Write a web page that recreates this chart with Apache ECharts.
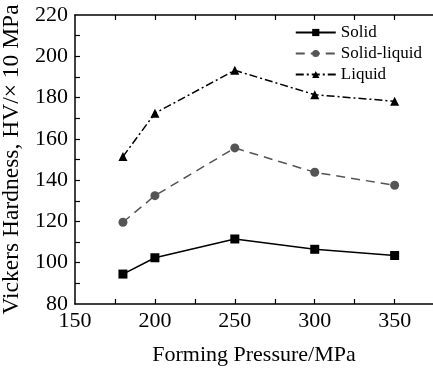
<!DOCTYPE html>
<html>
<head>
<meta charset="utf-8">
<script src="https://cdn.jsdelivr.net/npm/echarts@6/dist/echarts.min.js"></script>
<style>
  html, body { margin: 0; padding: 0; background: #fff; }
  #chart { width: 433px; height: 373px; }
</style>
</head>
<body>
<div id="chart"></div>
<script>
// forming pressure (MPa)
const pressures = [180, 200, 250, 300, 350];
// Vickers hardness, HV / x10 MPa
const solid = [94.5, 102.4, 111.5, 106.5, 103.5];
const solidLiquid = [119.6, 132.5, 155.6, 143.8, 137.5];
const liquid = [151.4, 172.4, 193.2, 181.4, 178.2];

const xTicks = [175, 200, 225, 250, 275, 300, 325, 350];
const xLabels = [150, 200, 250, 300, 350];
const yTicks = [90, 100, 110, 120, 130, 140, 150, 160, 170, 180, 190, 200, 210];

const font = "'Liberation Serif', 'Times New Roman', serif";

const chart = echarts.init(document.getElementById('chart'));

const pairs = vals => pressures.map((p, i) => [p, vals[i]]);

const baseX = {
  type: 'value',
  min: 150,
  max: 374,
  axisLine: { show: true, onZero: false, lineStyle: { color: '#000', width: 1.5 } },
  axisTick: { show: true, inside: true, length: 5, customValues: xTicks, lineStyle: { color: '#000', width: 1.2 } },
  splitLine: { show: false }
};

chart.setOption({
  animation: false,
  textStyle: { fontFamily: font },
  grid: { left: 75, top: 15, right: 0, bottom: 69, containLabel: false, outerBoundsMode: 'none' },
  legend: {
    right: 6,
    top: 19,
    orient: 'vertical',
    itemWidth: 40,
    itemHeight: 9,
    itemGap: 4,
    textStyle: { fontFamily: font, fontSize: 17, color: '#000' },
    data: ['Solid', 'Solid-liquid', 'Liquid']
  },
  xAxis: [
    Object.assign({}, baseX, {
      position: 'bottom',
      name: 'Forming Pressure/MPa',
      nameLocation: 'middle',
      nameGap: 40,
      nameTextStyle: { fontFamily: font, fontSize: 22, color: '#000' },
      axisLabel: { customValues: xLabels, margin: 6, fontFamily: font, fontSize: 22, color: '#000' }
    }),
    Object.assign({}, baseX, {
      position: 'top',
      axisLabel: { show: false }
    })
  ],
  yAxis: {
    type: 'value',
    min: 80,
    max: 220,
    interval: 20,
    name: 'Vickers Hardness, HV/\u00d7 10 MPa',
    nameLocation: 'middle',
    nameGap: 42,
    nameTextStyle: { fontFamily: font, fontSize: 23.5, color: '#000' },
    axisLine: { show: true, lineStyle: { color: '#000', width: 1.5 } },
    axisTick: { show: true, inside: true, length: 5, customValues: yTicks, lineStyle: { color: '#000', width: 1.2 } },
    axisLabel: { margin: 7, fontFamily: font, fontSize: 22, color: '#000' },
    splitLine: { show: false }
  },
  series: [
    {
      name: 'Solid',
      type: 'line',
      data: pairs(solid),
      symbol: 'rect',
      symbolSize: 9,
      itemStyle: { color: '#000' },
      lineStyle: { color: '#000', width: 1.5, type: 'solid' }
    },
    {
      name: 'Solid-liquid',
      type: 'line',
      data: pairs(solidLiquid),
      symbol: 'circle',
      symbolSize: 9,
      itemStyle: { color: '#555' },
      lineStyle: { color: '#555', width: 1.5, type: [9, 6] }
    },
    {
      name: 'Liquid',
      type: 'line',
      data: pairs(liquid),
      symbol: 'triangle',
      symbolSize: 9,
      itemStyle: { color: '#000' },
      lineStyle: { color: '#000', width: 1.5, type: [8, 3, 2, 3] }
    }
  ]
});
</script>
</body>
</html>
